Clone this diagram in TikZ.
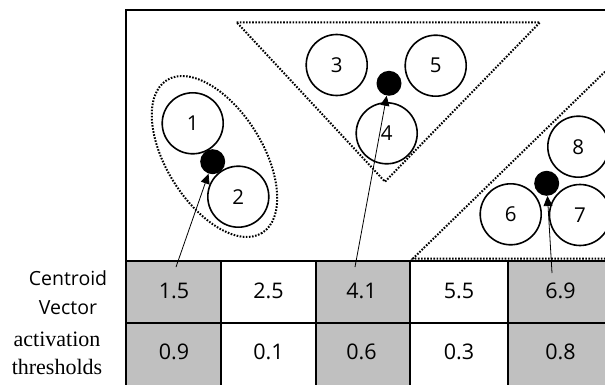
\documentclass[tikz,border=0pt]{standalone}
\usepackage{fontspec}
\setmainfont{Liberation Serif}
\newfontfamily\uifont{Open Sans}
\usetikzlibrary{arrows.meta}
\definecolor{cellgrey}{RGB}{192,192,192}
\begin{document}
\begin{tikzpicture}[x=1pt,y=-1pt,
  frame/.style={line width=2pt},
  cluster/.style={line width=2pt, dash pattern=on 1.6pt off 1.5pt},
  item/.style={circle, draw, line width=1.6pt, minimum size=61pt, inner sep=0pt,
    font=\uifont\fontsize{20.5}{20.5}\selectfont},
  centroid/.style={circle, fill=black, minimum size=25pt, inner sep=0pt},
  pointer/.style={line width=0.8pt, -{Triangle[length=10pt,width=9pt]}},
  val/.style={font=\uifont\fontsize{21.5}{21.5}\selectfont, inner sep=0pt},
  rowlabel/.style={align=center, inner sep=0pt}
]
\useasboundingbox (0,0) rectangle (605,385);

% grey columns of the table
\fill[cellgrey] (126,261) rectangle (221,392);
\fill[cellgrey] (316,261) rectangle (410,392);
\fill[cellgrey] (508,261) rectangle (615,392);

% plot frame and table grid
\draw[frame] (126,10) rectangle (615,261);
\draw[frame] (126,323) -- (615,323);
\foreach \gx in {126,221,316,410,508}
  \draw[frame] (\gx,261) -- (\gx,392);

% cluster outlines
\draw[cluster, rotate around={-58:(214.5,156.5)}] (214.5,156.5) ellipse [x radius=90, y radius=48];
\draw[cluster] (236.7,22.3) -- (540,22.3) -- (385,181.7) -- cycle;
\draw[cluster] (605,71.7) -- (413,258.5) -- (615,258.5);

% data points
\node[item] (n1) at (192.7,123.3) {1};
\node[item] (n2) at (238.3,196.7) {2};
\node[item] (n3) at (336.7,65) {3};
\node[item] (n4) at (386.7,133.3) {4};
\node[item] (n5) at (435.7,65.7) {5};
\node[item] (n6) at (510.7,214.3) {6};
\node[item] (n7) at (580,215) {7};
\node[item] (n8) at (578.3,146.7) {8};

% centroids
\node[centroid] (d1) at (212.7,161.7) {};
\node[centroid] (d2) at (389,83.3) {};
\node[centroid] (d3) at (546.7,183.3) {};

% row labels
\node[rowlabel, font=\uifont\fontsize{19.5}{29}\selectfont] (cvlabel) at (68,293) {Centroid\\Vector};
\node[rowlabel, font=\fontsize{22}{28}\selectfont] (atlabel) at (57,353) {activation\\thresholds};

% centroid vector values
\node[val] (v1) at (174,291) {1.5};
\node[val] (v2) at (268.5,291) {2.5};
\node[val] (v3) at (361.5,291) {4.1};
\node[val] (v4) at (459,291) {5.5};
\node[val] (v5) at (560.5,291) {6.9};

% activation thresholds
\node[val] (t1) at (174,352) {0.9};
\node[val] (t2) at (268.5,352) {0.1};
\node[val] (t3) at (361.5,352) {0.6};
\node[val] (t4) at (459,352) {0.3};
\node[val] (t5) at (560.5,352) {0.8};

% pointers from the table to the centroids
\coordinate (s1) at (176,267);
\coordinate (s2) at (355,267);
\coordinate (s3) at (552,273);
\draw[pointer] (s1) -- (d1);
\draw[pointer] (s2) -- (d2);
\draw[pointer] (s3) -- (d3);
\end{tikzpicture}
\end{document}
